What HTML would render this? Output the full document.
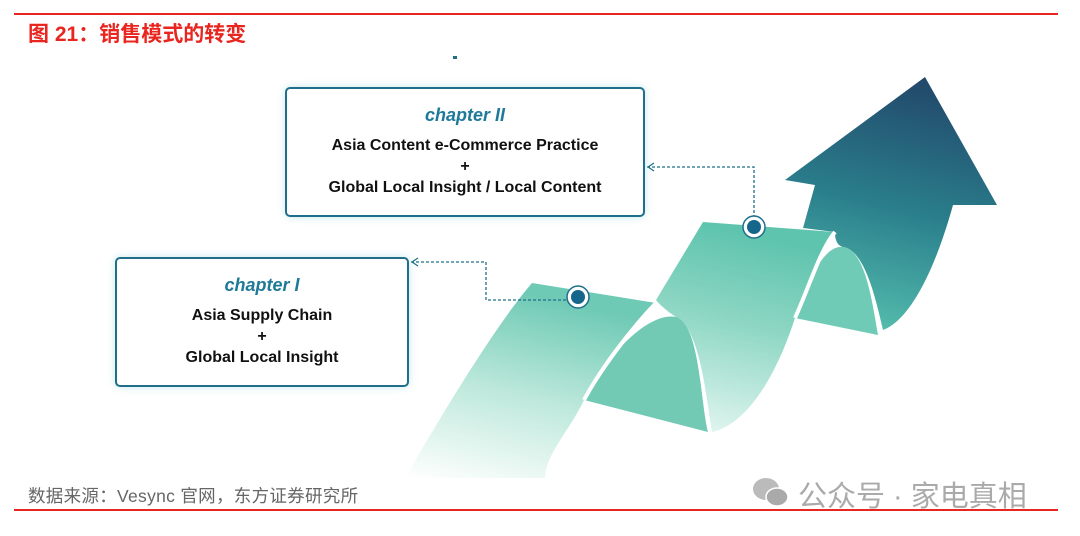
<!DOCTYPE html>
<html><head><meta charset="utf-8"><style>
html,body{margin:0;padding:0;background:#fff;}
body{width:1080px;height:536px;position:relative;overflow:hidden;font-family:"Liberation Sans","Noto Sans CJK SC",sans-serif;}
.line{position:absolute;left:14px;width:1044px;height:2px;background:#e8251f;}
.title{position:absolute;left:28px;top:18px;font-size:21px;font-weight:bold;color:#e8251f;font-family:"Liberation Sans","Noto Sans CJK SC",sans-serif;}
.box{position:absolute;border:2px solid #1f6f8b;border-radius:5px;background:#fff;box-shadow:0 0 8px rgba(90,190,200,0.35);text-align:center;font-weight:bold;color:#111;}
.ch{color:#1f7a9a;font-style:italic;font-size:18px;font-weight:bold;}
.t{font-size:16px;line-height:21px;}
.foot{position:absolute;left:28px;top:483px;font-size:17.5px;color:#666;letter-spacing:0.3px;}
.wm{position:absolute;left:798px;top:473px;font-size:29px;color:#aaa;}
</style></head><body>
<div class="line" style="top:13px"></div>
<div class="title">图 21：销售模式的转变</div>
<div style="position:absolute;left:453px;top:56px;width:4px;height:3px;background:#1f6f8b"></div>

<svg width="1080" height="536" style="position:absolute;left:0;top:0">
<defs>
<linearGradient id="b1" x1="0" y1="1" x2="0.3" y2="0">
<stop offset="0" stop-color="#fff"/><stop offset="0.5" stop-color="#bfe9dc"/><stop offset="1" stop-color="#6fcab5"/></linearGradient>
<linearGradient id="b2" x1="0" y1="1" x2="0.2" y2="0">
<stop offset="0" stop-color="#e8f8f3"/><stop offset="0.6" stop-color="#8cd6c3"/><stop offset="1" stop-color="#5fc4ae"/></linearGradient>
<linearGradient id="ar" x1="0.5" y1="0" x2="0.3" y2="1">
<stop offset="0" stop-color="#224a6c"/><stop offset="0.5" stop-color="#2a7f8c"/><stop offset="1" stop-color="#56bfae"/></linearGradient>
</defs>
<path d="M803,228 L815,185 L785,180 L925,77 L997,205 L953,205 C935,270 910,320 883,330 C876,300 865,250 843,247 C835,245 835,235 835,232 Z" fill="url(#ar)"/>
<path d="M795,318 C810,275 825,245 843,247 C865,250 872,300 878,335 Z" fill="#6fcbb5"/>
<path d="M656,300 L703,222 L835,232 C820,250 808,290 795,318 C775,380 745,425 712,432 C705,390 700,330 676,317 C668,312 660,305 656,300 Z" fill="url(#b2)"/>
<path d="M584,400 C610,350 650,312 676,317 C700,325 700,400 708,432 Z" fill="#72cab4"/>
<path d="M405,478 C450,400 500,320 532,283 L656,303 C630,330 600,370 584,400 C570,430 545,455 545,478 Z" fill="url(#b1)"/>
<path d="M656,303 C630,330 600,370 584,400" stroke="#fff" stroke-width="4" fill="none"/>
<path d="M835,232 C820,250 808,290 795,318" stroke="#fff" stroke-width="4" fill="none"/>
<g fill="none" stroke="#1f6f8b" stroke-width="1.3" stroke-dasharray="3,2">
<path d="M647,167 L754,167 L754,216"/>
<path d="M411,262 L486,262 L486,300 L567,300"/>
</g>
<path d="M654,163 L648,167 L654,171" fill="none" stroke="#1f6f8b" stroke-width="1.2"/>
<path d="M418,258 L412,262 L418,266" fill="none" stroke="#1f6f8b" stroke-width="1.2"/>
<circle cx="754" cy="227" r="11" fill="#fff" stroke="#1f6f8b" stroke-width="1.5"/>
<circle cx="754" cy="227" r="7" fill="#15668a"/>
<circle cx="578" cy="297" r="11" fill="#fff" stroke="#1f6f8b" stroke-width="1.5"/>
<circle cx="578" cy="297" r="7" fill="#15668a"/>
</svg>

<div class="box" style="left:285px;top:87px;width:356px;height:126px;">
<div class="ch" style="margin-top:16px">chapter II</div>
<div class="t" style="margin-top:9px">Asia Content e-Commerce Practice<br>+<br>Global Local Insight / Local Content</div>
</div>
<div class="box" style="left:115px;top:257px;width:290px;height:126px;">
<div class="ch" style="margin-top:16px">chapter I</div>
<div class="t" style="margin-top:9px">Asia Supply Chain<br>+<br>Global Local Insight</div>
</div>

<div class="foot">数据来源：Vesync 官网，东方证券研究所</div>
<svg width="40" height="36" style="position:absolute;left:752px;top:475px">
<ellipse cx="14" cy="14" rx="13" ry="11" fill="#bbb"/>
<ellipse cx="25" cy="22" rx="11" ry="9" fill="#aaa" stroke="#fff" stroke-width="1.5"/>
</svg>
<div class="wm">公众号 · 家电真相</div>
<div class="line" style="top:509px"></div>
</body></html>
